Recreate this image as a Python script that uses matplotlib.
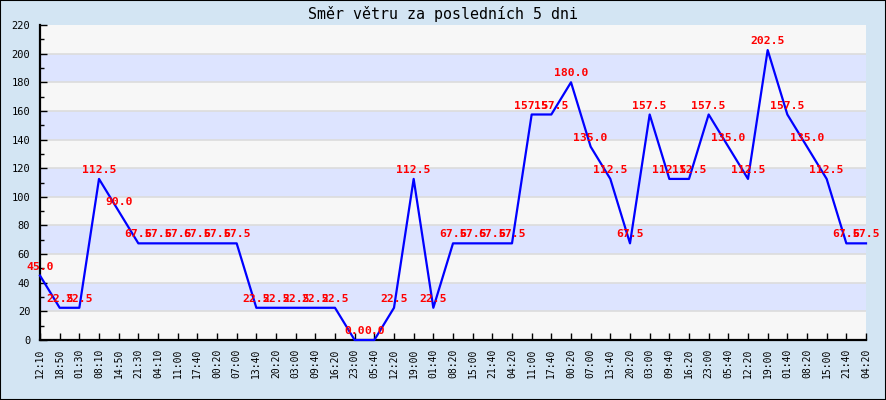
import matplotlib
matplotlib.use("Agg")
import matplotlib.pyplot as plt
from matplotlib.patches import Rectangle
from matplotlib.ticker import MultipleLocator

times = ["12:10", "18:50", "01:30", "08:10", "14:50", "21:30", "04:10", "11:00",
         "17:40", "00:20", "07:00", "13:40", "20:20", "03:00", "09:40", "16:20",
         "23:00", "05:40", "12:20", "19:00", "01:40", "08:20", "15:00", "21:40",
         "04:20", "11:00", "17:40", "00:20", "07:00", "13:40", "20:20", "03:00",
         "09:40", "16:20", "23:00", "05:40", "12:20", "19:00", "01:40", "08:20",
         "15:00", "21:40", "04:20"]
direction = [45.0, 22.5, 22.5, 112.5, 90.0, 67.5, 67.5, 67.5, 67.5, 67.5, 67.5,
             22.5, 22.5, 22.5, 22.5, 22.5, 0.0, 0.0, 22.5, 112.5, 22.5, 67.5,
             67.5, 67.5, 67.5, 157.5, 157.5, 180.0, 135.0, 112.5, 67.5, 157.5,
             112.5, 112.5, 157.5, 135.0, 112.5, 202.5, 157.5, 135.0, 112.5,
             67.5, 67.5]

mono = "DejaVu Sans Mono"
fig = plt.figure(figsize=(8.86, 4.0), dpi=100, facecolor="#d3e5f3")
ax = fig.add_axes([40 / 886, 60 / 400, 826 / 886, 315 / 400])
ax.set_facecolor("#f7f7f7")

# alternating horizontal bands
for k in range(11):
    if k % 2 == 1:
        ax.axhspan(k * 20, (k + 1) * 20, color="#dde4ff", zorder=0, lw=0)
    ax.axhline(k * 20, color="#dcdcdc", lw=1.2, zorder=0.5)

x = list(range(len(direction)))
ax.plot(x, direction, color="#0000ff", lw=1.6, zorder=6, clip_on=False)
for xi, v in zip(x, direction):
    ax.annotate(f"{v:.1f}", (xi, v), xytext=(0, 4.3), textcoords="offset points",
                ha="center", va="baseline", color="#ff0000", fontsize=8.2,
                fontweight="bold", family=mono, clip_on=False, zorder=7)

ax.set_xlim(0, len(direction) - 1)
ax.set_ylim(0, 220)
ax.set_xticks(x)
ax.set_xticklabels(times, rotation=90, family=mono, fontsize=7)
ax.yaxis.set_major_locator(MultipleLocator(20))
ax.yaxis.set_minor_locator(MultipleLocator(10))
for lab in ax.get_yticklabels():
    lab.set_family(mono)
    lab.set_fontsize(7.5)
ax.tick_params(axis="x", direction="in", length=5, width=1, pad=6)
ax.tick_params(axis="y", which="major", direction="in", length=5, width=1, pad=7)
ax.tick_params(axis="y", which="minor", direction="in", length=3, width=1)
for s in ("top", "right"):
    ax.spines[s].set_visible(False)
for s in ("left", "bottom"):
    ax.spines[s].set_linewidth(1.6)
    ax.spines[s].set_zorder(5)

fig.text(0.5, 1 - 14 / 400, "Směr větru za posledních 5 dni", ha="center",
         va="center", family=mono, fontsize=10.8)
fig.patches.append(Rectangle((0, 0), 1, 1, transform=fig.transFigure,
                             fill=False, edgecolor="black", lw=1.5))

fig.savefig("out.png", dpi=100, facecolor=fig.get_facecolor())
